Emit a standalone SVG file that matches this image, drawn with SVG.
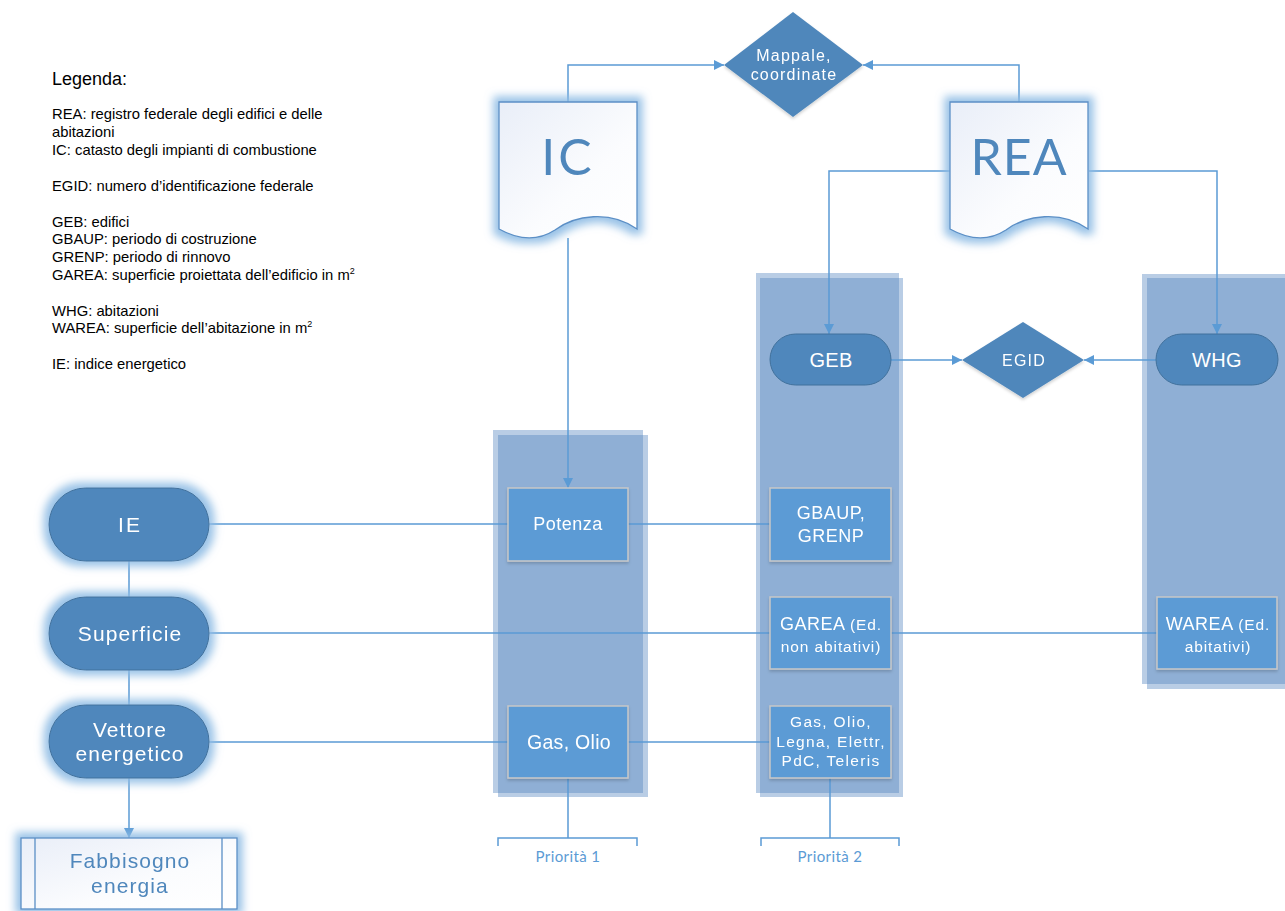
<svg xmlns="http://www.w3.org/2000/svg" width="1285" height="911" viewBox="0 0 1285 911">
  <defs>
    <style>
      .legend { font-family: "Liberation Sans", Arial, sans-serif; font-size: 14.8px; fill: #000; }
      .lbl { font-family: "Liberation Sans", Arial, sans-serif; fill: #fff; text-anchor: middle; }
      .doclbl { font-family: "Lato", "Open Sans", sans-serif; fill: #4f87bc; text-anchor: middle; }
      .fab { font-family: "Liberation Sans", Arial, sans-serif; fill: #4f87bc; text-anchor: middle; font-size: 21px; letter-spacing: 1.1px; }
      .prio { font-family: "Lato", "Open Sans", sans-serif; font-size: 15px; letter-spacing: 0.4px; fill: #5b9bd5; text-anchor: middle; }
      .lane { fill: #4f81bd; fill-opacity: 0.4; }
      .pill { fill: #4f87bc; stroke: #41719c; stroke-width: 1; }
      .box { fill: #5b9bd5; stroke: #c8c8c8; stroke-width: 1.5; }
      .dia { fill: #4f87bb; }
      .doc { fill: url(#docFill); stroke: #5b8fc6; stroke-width: 1.3; }
      .conn { fill: none; stroke: #5b9bd5; stroke-width: 1.5; }
      .big { font-size: 21px; letter-spacing: 1.1px; }
      .mid { font-size: 18px; letter-spacing: 0.5px; }
      .sml { font-size: 15.5px; letter-spacing: 0.9px; }
    </style>
    <linearGradient id="docFill" x1="0" y1="0" x2="1" y2="1">
      <stop offset="0" stop-color="#e9eef8"/>
      <stop offset="0.6" stop-color="#fbfcfe"/>
      <stop offset="1" stop-color="#ffffff"/>
    </linearGradient>
    <filter id="glow" x="-30%" y="-30%" width="160%" height="160%">
      <feMorphology in="SourceAlpha" operator="dilate" radius="5" result="d"/>
      <feGaussianBlur in="d" stdDeviation="4.5" result="b"/>
      <feFlood flood-color="#8dbbe4" flood-opacity="0.9"/>
      <feComposite in2="b" operator="in" result="g"/>
      <feMerge><feMergeNode in="g"/><feMergeNode in="SourceGraphic"/></feMerge>
    </filter>
    <filter id="shadow" x="-20%" y="-20%" width="140%" height="140%">
      <feGaussianBlur in="SourceAlpha" stdDeviation="1.5"/>
      <feOffset dx="0" dy="2" result="o"/>
      <feFlood flood-color="#000" flood-opacity="0.18"/>
      <feComposite in2="o" operator="in" result="s"/>
      <feMerge><feMergeNode in="s"/><feMergeNode in="SourceGraphic"/></feMerge>
    </filter>
    <marker id="arrow" viewBox="0 0 10 10" refX="10" refY="5" markerWidth="10" markerHeight="10" markerUnits="userSpaceOnUse" orient="auto">
      <path d="M0,0 L10,5 L0,10 Z" fill="#5b9bd5"/>
    </marker>
    <path id="docShape" d="M0,0 H138 V127 C111,108 76,113 56,128 C36,141 16,136 0,127 Z"/>
  </defs>

  <!-- legend -->
  <g id="legend">
    <text class="legend" x="52" y="85" style="font-size:18px">Legenda:</text>
    <text class="legend" x="52" y="119">REA: registro federale degli edifici e delle</text>
    <text class="legend" x="52" y="137">abitazioni</text>
    <text class="legend" x="52" y="155">IC: catasto degli impianti di combustione</text>
    <text class="legend" x="52" y="191">EGID: numero d’identificazione federale</text>
    <text class="legend" x="52" y="227">GEB: edifici</text>
    <text class="legend" x="52" y="244">GBAUP: periodo di costruzione</text>
    <text class="legend" x="52" y="262">GRENP: periodo di rinnovo</text>
    <text class="legend" x="52" y="280">GAREA: superficie proiettata dell’edificio in m<tspan dy="-6" style="font-size:9px">2</tspan></text>
    <text class="legend" x="52" y="316">WHG: abitazioni</text>
    <text class="legend" x="52" y="333">WAREA: superficie dell’abitazione in m<tspan dy="-6" style="font-size:9px">2</tspan></text>
    <text class="legend" x="52" y="369">IE: indice energetico</text>
  </g>

  <!-- lanes -->
  <g id="lanes">
    <rect class="lane" x="493" y="430" width="150" height="363"/>
    <rect class="lane" x="498" y="435" width="150" height="362"/>
    <rect class="lane" x="756" y="273" width="143" height="520"/>
    <rect class="lane" x="760" y="278" width="143" height="519"/>
    <rect class="lane" x="1142" y="274" width="150" height="410"/>
    <rect class="lane" x="1147" y="278" width="150" height="411"/>
  </g>

  <!-- connectors -->
  <g id="connectors">
    <path class="conn" d="M568,102 V65 H724" marker-end="url(#arrow)"/>
    <path class="conn" d="M1019,102 V65 H863" marker-end="url(#arrow)"/>
    <path class="conn" d="M950,171 H829 V334" marker-end="url(#arrow)"/>
    <path class="conn" d="M1089,171 H1217 V334" marker-end="url(#arrow)"/>
    <path class="conn" d="M891,360 H962" marker-end="url(#arrow)"/>
    <path class="conn" d="M1156,360 H1084" marker-end="url(#arrow)"/>
    <path class="conn" d="M568,238 V488" marker-end="url(#arrow)"/>
    <path class="conn" d="M209,524 H508 M628,524 H770"/>
    <path class="conn" d="M209,633 H770 M891,633 H1157"/>
    <path class="conn" d="M209,742 H508 M628,742 H770"/>
    <path class="conn" d="M129,561 V597 M129,670 V705"/>
    <path class="conn" d="M129,778 V838" marker-end="url(#arrow)"/>
    <path class="conn" d="M568,778 V838 M498,846 V838 H637 V846"/>
    <path class="conn" d="M830,778 V838 M761,846 V838 H899 V846"/>
  </g>

  <!-- source documents -->
  <g id="node-ic" filter="url(#glow)">
    <use href="#docShape" class="doc" x="499" y="102"/>
    <text class="doclbl" x="568" y="175" style="font-size:50px;letter-spacing:3px">IC</text>
  </g>
  <g id="node-rea" filter="url(#glow)">
    <use href="#docShape" class="doc" x="950" y="102"/>
    <text class="doclbl" x="1019" y="175" style="font-size:50px;letter-spacing:1px">REA</text>
  </g>

  <!-- decisions -->
  <g id="node-mappale" filter="url(#shadow)">
    <path class="dia" d="M793,12 L863,65 L793,117 L724,65 Z"/>
    <text class="lbl" style="font-size:16px;letter-spacing:1.2px"><tspan x="794" y="61">Mappale,</tspan><tspan x="794" y="80">coordinate</tspan></text>
  </g>
  <g id="node-egid" filter="url(#shadow)">
    <path class="dia" d="M1023,322 L1084,360 L1023,398 L962,360 Z"/>
    <text class="lbl" x="1024" y="366" style="font-size:16px;letter-spacing:1.2px">EGID</text>
  </g>

  <!-- lane heads -->
  <g id="node-geb">
    <rect class="pill" x="770" y="334" width="121" height="51" rx="25.5"/>
    <text class="lbl" x="831" y="367" style="font-size:20px;letter-spacing:0.3px">GEB</text>
  </g>
  <g id="node-whg">
    <rect class="pill" x="1156" y="334" width="122" height="51" rx="25.5"/>
    <text class="lbl" x="1217" y="367" style="font-size:20px;letter-spacing:0.3px">WHG</text>
  </g>

  <!-- attribute boxes -->
  <g id="node-potenza" filter="url(#shadow)">
    <rect class="box" x="508" y="488" width="120" height="73"/>
    <text class="lbl mid" x="568" y="530">Potenza</text>
  </g>
  <g id="node-gbaup" filter="url(#shadow)">
    <rect class="box" x="770" y="488" width="121" height="73"/>
    <text class="lbl mid"><tspan x="831" y="519">GBAUP,</tspan><tspan x="831" y="542">GRENP</tspan></text>
  </g>
  <g id="node-garea" filter="url(#shadow)">
    <rect class="box" x="770" y="597" width="121" height="72"/>
    <text class="lbl mid"><tspan x="831" y="630">GAREA <tspan class="sml">(Ed.</tspan></tspan><tspan class="sml" x="831" y="652">non abitativi)</tspan></text>
  </g>
  <g id="node-warea" filter="url(#shadow)">
    <rect class="box" x="1157" y="597" width="120" height="72"/>
    <text class="lbl mid"><tspan x="1218" y="630">WAREA <tspan class="sml">(Ed.</tspan></tspan><tspan class="sml" x="1218" y="652">abitativi)</tspan></text>
  </g>
  <g id="node-gasolio1" filter="url(#shadow)">
    <rect class="box" x="508" y="706" width="120" height="72"/>
    <text class="lbl" x="569" y="749" style="font-size:19.5px;letter-spacing:0.3px">Gas, Olio</text>
  </g>
  <g id="node-gasolio2" filter="url(#shadow)">
    <rect class="box" x="770" y="706" width="121" height="72"/>
    <text class="lbl" style="font-size:15.5px;letter-spacing:1.3px"><tspan x="831" y="727">Gas, Olio,</tspan><tspan x="831" y="747">Legna, Elettr,</tspan><tspan x="831" y="766">PdC, Teleris</tspan></text>
  </g>

  <!-- energy index chain -->
  <g id="node-ie" filter="url(#glow)">
    <rect class="pill" x="49" y="488" width="160" height="73" rx="36.5"/>
    <text class="lbl" x="130" y="532" style="font-size:21px;letter-spacing:2px">IE</text>
  </g>
  <g id="node-superficie" filter="url(#glow)">
    <rect class="pill" x="49" y="597" width="160" height="73" rx="36.5"/>
    <text class="lbl big" x="130" y="641">Superficie</text>
  </g>
  <g id="node-vettore" filter="url(#glow)">
    <rect class="pill" x="49" y="705" width="160" height="73" rx="36.5"/>
    <text class="lbl big"><tspan x="130" y="737">Vettore</tspan><tspan x="130" y="761">energetico</tspan></text>
  </g>
  <g id="node-fabbisogno" filter="url(#glow)">
    <rect class="doc" x="21" y="838" width="216" height="71"/>
    <path d="M35,838 V909 M222,838 V909" fill="none" stroke="#5b8fc6" stroke-width="1.3"/>
    <text class="fab"><tspan x="130" y="868">Fabbisogno</tspan><tspan x="130" y="893">energia</tspan></text>
  </g>

  <!-- priority brackets -->
  <g id="priorities">
    <text class="prio" x="568" y="862">Priorità 1</text>
    <text class="prio" x="830" y="862">Priorità 2</text>
  </g>
</svg>
